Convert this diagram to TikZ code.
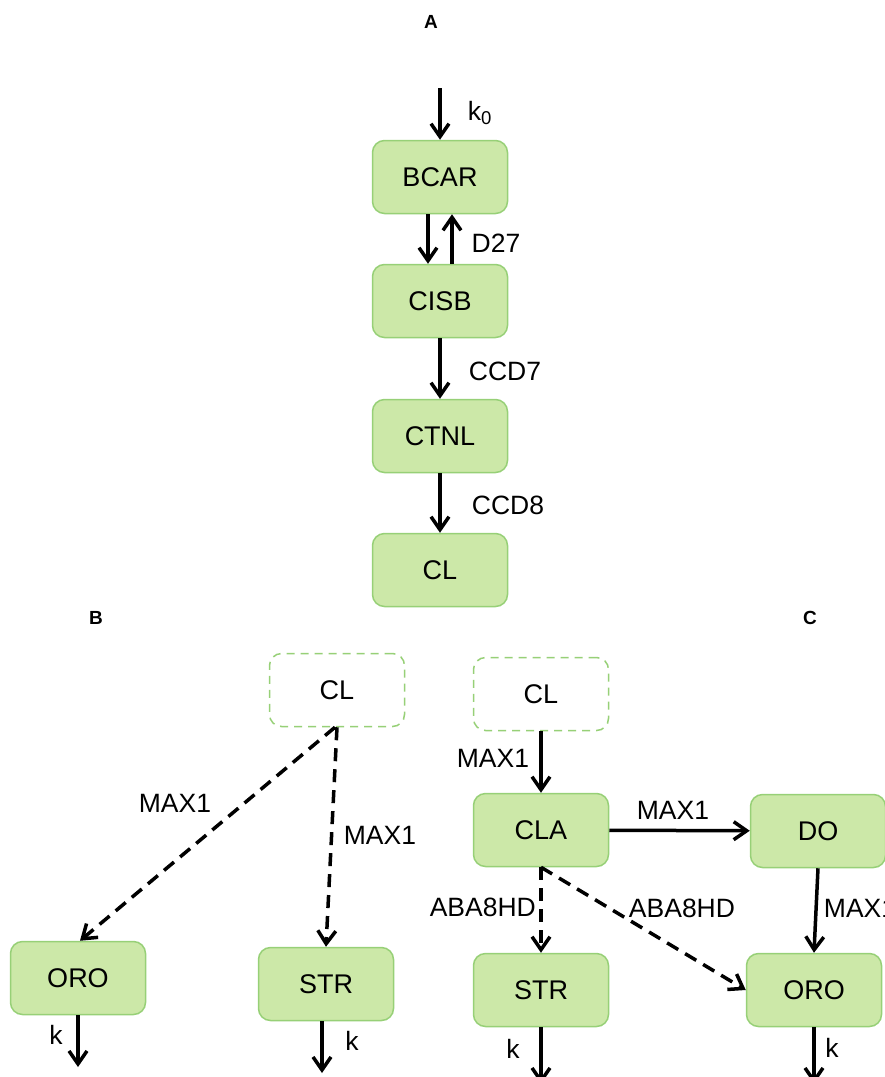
\documentclass[tikz,border=0pt]{standalone}
\usepackage{fontspec}
\setmainfont{Liberation Sans}
\usepackage{tikz}
\usetikzlibrary{positioning}
\usetikzlibrary{arrows.meta}
\definecolor{boxfill}{HTML}{CCE8A8}
\definecolor{boxline}{HTML}{97D077}
\tikzset{
    species/.style={draw=boxline, fill=boxfill, line width=1.5pt, rounded corners=12pt,
        minimum width=135pt, minimum height=73pt, font=\fontsize{27}{31}\selectfont},
    ghost/.style={species, fill=white, dash pattern=on 8pt off 6pt},
    flux/.style={-{Straight Barb[length=13pt,width=18pt,line width=3.5pt]}, line width=3.5pt},
    dflux/.style={flux, dash pattern=on 13pt off 8pt},
    lbl/.style={font=\fontsize{26.5}{30}\selectfont, inner sep=0pt},
    panel/.style={font=\bfseries\fontsize{19}{22}\selectfont, inner sep=0pt}
}
\begin{document}
\begin{tikzpicture}[x=1pt, y=-1pt]
    \useasboundingbox (0,0) rectangle (885,1077);
    % Panel A
    \node[panel] (pA) at (431, 22) {A};
    \node[species] (BCAR) at (440, 177) {BCAR};
    \node[species] (CISB) at (440, 301) {CISB};
    \node[species] (CTNL) at (440, 436) {CTNL};
    \node[species] (CLa) at (440, 570) {CL};
    \coordinate (src) at (440, 88);
    \node[lbl] (k0) at (480, 113) {k\textsubscript{0}};
    \node[lbl] (D27) at (496, 243) {D27};
    \node[lbl] (CCD7) at (505, 371) {CCD7};
    \node[lbl] (CCD8) at (508, 505) {CCD8};

    % Panel B
    \node[panel] (pB) at (96, 618) {B};
    \node[ghost] (CLb) at (337, 690) {CL};
    \node[species] (OROb) at (78, 978) {ORO};
    \node[species] (STRb) at (326, 984) {STR};
    \coordinate (OROb out) at (78, 1067);
    \coordinate (STRb out) at (322, 1073);
    \node[lbl] (mB1) at (175, 803) {MAX1};
    \node[lbl] (mB2) at (380, 835) {MAX1};
    \node[lbl] (kB1) at (56, 1035) {k};
    \node[lbl] (kB2) at (352, 1041) {k};

    % Panel C
    \node[panel] (pC) at (810, 618) {C};
    \node[ghost] (CLc) at (541, 694) {CL};
    \node[species] (CLAc) at (541, 830) {CLA};
    \node[species] (DOc) at (818, 831) {DO};
    \node[species] (STRc) at (541, 990) {STR};
    \node[species] (OROc) at (814, 990) {ORO};
    \coordinate (STRc out) at (541, 1084);
    \coordinate (OROc out) at (814, 1084);
    \node[lbl] (mC1) at (493, 758) {MAX1};
    \node[lbl] (mC2) at (673, 810) {MAX1};
    \node[lbl] (mC3) at (860, 908) {MAX1};
    \node[lbl, anchor=east] (aC1) at (536, 907) {ABA8HD};
    \node[lbl] (aC2) at (682, 908) {ABA8HD};
    \node[lbl] (kC1) at (513, 1049) {k};
    \node[lbl] (kC2) at (832, 1048) {k};

    % Edges A
    \draw[flux] (src) -- (BCAR);
    \draw[flux] ([xshift=-12pt]BCAR.south) -- ([xshift=-12pt]CISB.north);
    \draw[flux] ([xshift=12pt]CISB.north) -- ([xshift=12pt]BCAR.south);
    \draw[flux] (CISB) -- (CTNL);
    \draw[flux] (CTNL) -- (CLa);

    % Edges B
    \draw[dflux] ([xshift=-2pt]CLb.south) -- ([xshift=2pt]OROb.north);
    \draw[dflux] (CLb.south) -- (STRb.north);
    \draw[flux] (OROb.south) -- (OROb out);
    \draw[flux] ([xshift=-4pt]STRb.south) -- (STRb out);

    % Edges C
    \draw[flux] (CLc) -- (CLAc);
    \draw[flux] (CLAc) -- (DOc);
    \draw[flux] (DOc.south) -- (OROc.north);
    \draw[dflux] (CLAc.south) -- (STRc.north);
    \draw[dflux] (CLAc.south) -- (OROc.west);
    \draw[flux] (STRc.south) -- (STRc out);
    \draw[flux] (OROc.south) -- (OROc out);
\end{tikzpicture}
\end{document}
